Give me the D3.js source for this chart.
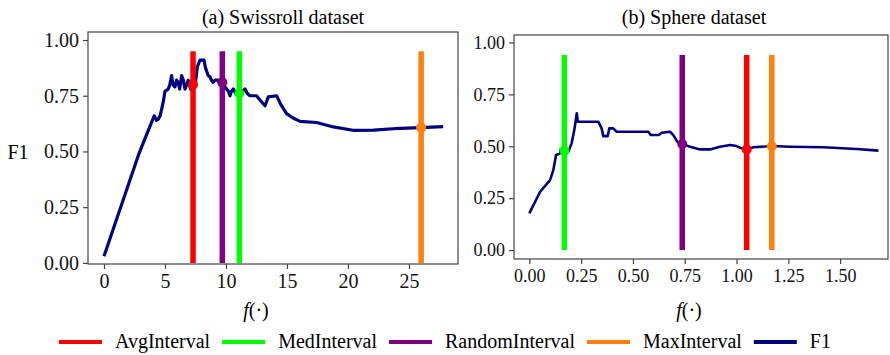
<!DOCTYPE html>
<html>
<head>
<meta charset="utf-8">
<script src="https://cdn.jsdelivr.net/npm/d3@7"></script>
<style>
  body { margin: 0; background: #fff; }
  svg { display: block; font-family: "Liberation Serif", "DejaVu Serif", serif; }
  .axis path, .axis line { stroke: #444; stroke-width: 1.2; }
  .axis text { fill: #111; }
</style>
</head>
<body>
<svg id="chart" width="890" height="355"></svg>
<script>
// F1 curves, [f, F1]
const swissF1 = [
    [0, 0.03], [2.8, 0.48], [3.3, 0.55], [3.9, 0.63], [4.12, 0.66], [4.3, 0.64],
    [4.45, 0.645], [4.6, 0.66], [4.73, 0.69], [4.85, 0.72], [5.0, 0.77], [5.27, 0.78],
    [5.4, 0.80], [5.55, 0.84], [5.65, 0.80], [5.82, 0.79], [5.95, 0.82], [6.09, 0.81],
    [6.2, 0.78], [6.37, 0.84], [6.5, 0.82], [6.64, 0.78], [6.78, 0.80], [6.91, 0.82],
    [7.1, 0.78], [7.32, 0.80], [7.5, 0.81], [7.65, 0.88], [7.87, 0.91], [8.2, 0.91],
    [8.3, 0.88], [8.42, 0.86], [8.55, 0.84], [8.69, 0.835], [8.8, 0.82], [8.96, 0.81],
    [9.1, 0.82], [9.37, 0.82], [9.5, 0.80], [9.7, 0.81], [9.9, 0.79], [10.06, 0.78],
    [10.2, 0.77], [10.33, 0.75], [10.45, 0.77], [10.6, 0.78], [10.8, 0.76], [11.07, 0.76],
    [11.3, 0.77], [11.56, 0.78], [11.75, 0.76], [11.97, 0.75], [12.5, 0.75], [12.8, 0.73],
    [13.2, 0.705], [13.47, 0.745], [14.15, 0.75], [14.5, 0.71], [14.97, 0.67], [15.5, 0.65],
    [16.07, 0.635], [17.43, 0.63], [18.8, 0.61], [20.4, 0.595], [22.1, 0.596], [24.3, 0.604],
    [25.96, 0.607], [27.8, 0.611]
];
const sphereF1 = [
    [0, 0.177], [0.052, 0.281], [0.1, 0.337], [0.116, 0.386], [0.129, 0.458], [0.148, 0.466],
    [0.151, 0.485], [0.169, 0.479], [0.188, 0.474], [0.204, 0.514], [0.217, 0.578], [0.229, 0.659],
    [0.234, 0.618], [0.333, 0.618], [0.349, 0.586], [0.357, 0.549], [0.378, 0.549], [0.386, 0.586],
    [0.405, 0.586], [0.422, 0.570], [0.574, 0.570], [0.586, 0.554], [0.623, 0.554], [0.639, 0.565],
    [0.679, 0.570], [0.695, 0.554], [0.714, 0.522], [0.738, 0.511], [0.776, 0.498], [0.824, 0.485],
    [0.872, 0.485], [0.920, 0.498], [0.969, 0.506], [1.0, 0.501], [1.025, 0.490], [1.049, 0.485],
    [1.081, 0.495], [1.17, 0.501], [1.258, 0.498], [1.419, 0.495], [1.58, 0.487], [1.685, 0.479]
];

// interval choices: name, f position, F1 at that point
const intervalNames = ['AvgInterval', 'MedInterval', 'RandomInterval', 'MaxInterval'];
const swissIntervalX = [7.3, 11.1, 9.7, 26.0];
const swissIntervalY = [0.80, 0.76, 0.81, 0.607];
const sphereIntervalX = [1.049, 0.169, 0.738, 1.17];
const sphereIntervalY = [0.485, 0.479, 0.511, 0.50];
const swissVlineTop = 0.95;
const sphereVlineTop = 0.94;

const swissXTicks = [0, 5, 10, 15, 20, 25];
const sphereXTicks = [0, 0.25, 0.5, 0.75, 1.0, 1.25, 1.5];
const yTicks = [0, 0.25, 0.5, 0.75, 1.0];

const colors = { AvgInterval: '#ff0000', MedInterval: '#00ff00', RandomInterval: '#800080', MaxInterval: '#ff7f0e', F1: '#000080' };

const svg = d3.select('#chart');

function drawPanel(opt) {
    const x = d3.scaleLinear().domain(opt.xDomain).range([opt.left, opt.right]);
    const y = d3.scaleLinear().domain(opt.yDomain).range([opt.bottom, opt.top]);
    const g = svg.append('g');

    // frame
    g.append('rect')
        .attr('x', opt.left).attr('y', opt.top)
        .attr('width', opt.right - opt.left).attr('height', opt.bottom - opt.top)
        .attr('fill', 'none').attr('stroke', '#444').attr('stroke-width', 1.2);

    const xAxis = g.append('g')
        .attr('class', 'axis')
        .attr('transform', `translate(0,${opt.bottom})`)
        .call(d3.axisBottom(x).tickValues(opt.xTicks).tickFormat(opt.xFormat).tickSize(5).tickPadding(5));
    xAxis.select('.domain').remove();
    xAxis.selectAll('text').attr('font-size', opt.fontSize).attr('font-family', 'Liberation Serif');

    const yAxis = g.append('g')
        .attr('class', 'axis')
        .attr('transform', `translate(${opt.left},0)`)
        .call(d3.axisLeft(y).tickValues(yTicks).tickFormat(d3.format('.2f')).tickSize(5).tickPadding(4));
    yAxis.select('.domain').remove();
    yAxis.selectAll('text').attr('font-size', opt.fontSize).attr('font-family', 'Liberation Serif');

    const line = d3.line().x(d => x(d[0])).y(d => y(d[1]));
    g.append('path')
        .datum(opt.data)
        .attr('d', line)
        .attr('fill', 'none')
        .attr('stroke', colors.F1)
        .attr('stroke-width', opt.lineWidth)
        .attr('stroke-linejoin', 'round');

    intervalNames.forEach((name, i) => {
        g.append('line')
            .attr('x1', x(opt.ix[i])).attr('x2', x(opt.ix[i]))
            .attr('y1', y(0)).attr('y2', y(opt.vTop))
            .attr('stroke', colors[name])
            .attr('stroke-width', 5.5);
        g.append('circle')
            .attr('cx', x(opt.ix[i])).attr('cy', y(opt.iy[i]))
            .attr('r', 5)
            .attr('fill', colors[name]);
    });

    g.append('text')
        .attr('x', opt.titleX).attr('y', 24)
        .attr('text-anchor', 'middle')
        .attr('font-size', 20)
        .text(opt.title);

    const xl = g.append('text')
        .attr('x', opt.xLabelX).attr('y', 317)
        .attr('text-anchor', 'middle')
        .attr('font-size', 20);
    xl.append('tspan').attr('font-style', 'italic').text('f');
    xl.append('tspan').text('(·)');
}

drawPanel({
    left: 88, right: 458, top: 32, bottom: 264,
    xDomain: [-1.31, 29.02], yDomain: [-0.005, 1.036],
    xTicks: swissXTicks, xFormat: d3.format('d'),
    data: swissF1, ix: swissIntervalX, iy: swissIntervalY, vTop: swissVlineTop,
    fontSize: 20, lineWidth: 3.2,
    title: '(a) Swissroll dataset', titleX: 283, xLabelX: 256
});

drawPanel({
    left: 514, right: 888, top: 35, bottom: 259,
    xDomain: [-0.074, 1.731], yDomain: [-0.043, 1.036],
    xTicks: sphereXTicks, xFormat: d3.format('.2f'),
    data: sphereF1, ix: sphereIntervalX, iy: sphereIntervalY, vTop: sphereVlineTop,
    fontSize: 18, lineWidth: 2.6,
    title: '(b) Sphere dataset', titleX: 694, xLabelX: 689
});

svg.append('text')
    .attr('x', 18).attr('y', 159)
    .attr('text-anchor', 'middle')
    .attr('font-size', 20)
    .text('F1');

// legend
const legendItems = intervalNames.concat(['F1']);
let lx = 59;
const ly = 342;
legendItems.forEach(name => {
    svg.append('line')
        .attr('x1', lx).attr('x2', lx + 43)
        .attr('y1', ly).attr('y2', ly)
        .attr('stroke', colors[name])
        .attr('stroke-width', 4);
    const t = svg.append('text')
        .attr('x', lx + 56).attr('y', ly + 6)
        .attr('font-size', 20)
        .text(name);
    lx = lx + 56 + t.node().getComputedTextLength() + 12;
});
</script>
</body>
</html>
